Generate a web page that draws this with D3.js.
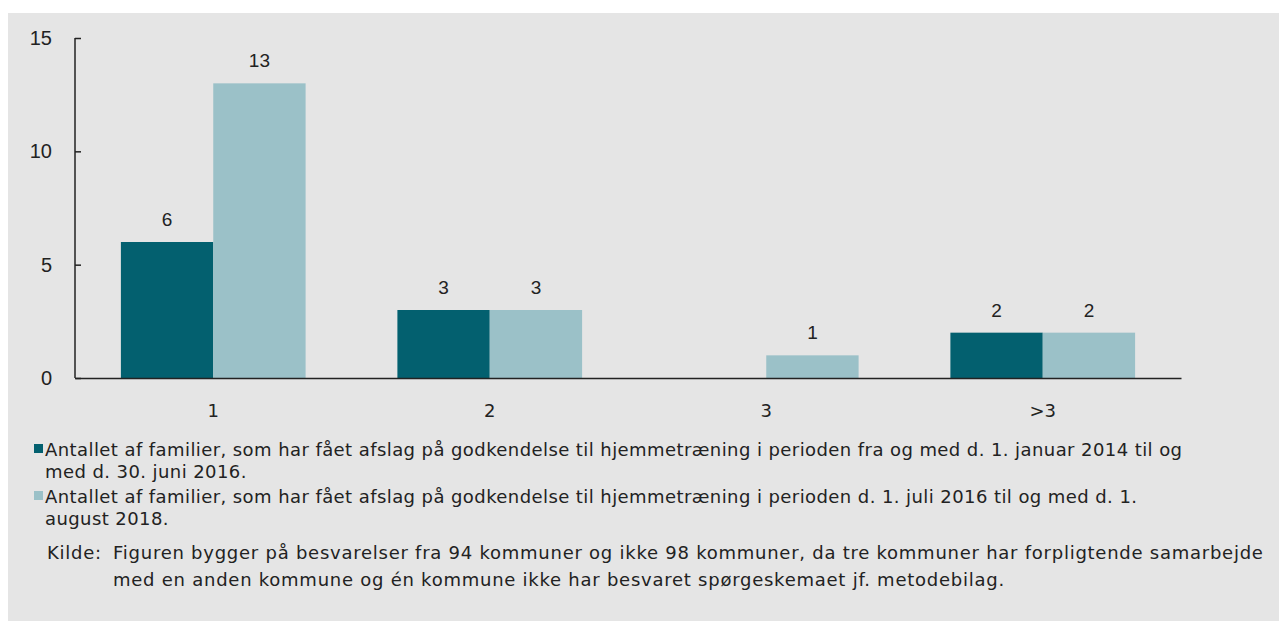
<!DOCTYPE html>
<html>
<head>
<meta charset="utf-8">
<script src="https://cdn.jsdelivr.net/npm/d3@7"></script>
<style>
  body { margin: 0; background: #fff; }
  svg { display: block; }
</style>
</head>
<body>
<script>
const categories = ["1", "2", "3", ">3"];
const series1 = [6, 3, null, 2];
const series2 = [13, 3, 1, 2];
const yTicks = [0, 5, 10, 15];
const legendLines1 = [
  "Antallet af familier, som har fået afslag på godkendelse til hjemmetræning i perioden fra og med d. 1. januar 2014 til og",
  "med d. 30. juni 2016."
];
const legendLines2 = [
  "Antallet af familier, som har fået afslag på godkendelse til hjemmetræning i perioden d. 1. juli 2016 til og med d. 1.",
  "august 2018."
];
const sourceLines = [
  "Figuren bygger på besvarelser fra 94 kommuner og ikke 98 kommuner, da tre kommuner har forpligtende samarbejde",
  "med en anden kommune og én kommune ikke har besvaret spørgeskemaet jf. metodebilag."
];

const colors = ["#03606f", "#9bc1c8"];
const W = 1279, H = 621;

const svg = d3.select("body").append("svg").attr("width", W).attr("height", H);

// grey panel
svg.append("rect").attr("x", 8).attr("y", 13).attr("width", W - 8).attr("height", H - 13).attr("fill", "#e5e5e5");

const x0 = d3.scaleBand().domain(categories).range([75, 1181]).paddingInner(0).paddingOuter(0);
const x1 = d3.scaleBand().domain([0, 1]).range([x0.bandwidth() * 0.166, x0.bandwidth() * 0.834]);
const y = d3.scaleLinear().domain([0, 15]).range([378, 38]);

const rows = categories.map((c, i) => ({ cat: c, vals: [series1[i], series2[i]] }));

const groups = svg.selectAll("g.cat").data(rows).enter().append("g")
  .attr("class", "cat")
  .attr("transform", d => `translate(${x0(d.cat)},0)`);

const cells = groups.selectAll("g.bar").data(d => d.vals.map((v, k) => ({ v, k })).filter(e => e.v != null))
  .enter().append("g").attr("class", "bar");

cells.append("rect")
  .attr("x", d => x1(d.k))
  .attr("y", d => y(d.v))
  .attr("width", x1.bandwidth())
  .attr("height", d => y(0) - y(d.v))
  .attr("fill", d => colors[d.k]);

cells.append("text")
  .text(d => d.v)
  .attr("x", d => x1(d.k) + x1.bandwidth() / 2)
  .attr("y", d => y(d.v) - 16)
  .attr("text-anchor", "middle")
  .attr("font-family", "Liberation Sans, Arial, sans-serif")
  .attr("font-size", 19)
  .attr("fill", "#222");

// y axis
const yAxis = svg.append("g").attr("transform", "translate(75,0)")
  .call(d3.axisRight(y).tickValues(yTicks).tickSize(6).tickFormat(""));
yAxis.select(".domain").attr("d", "M0,38V378").attr("stroke", "#222").attr("stroke-width", 1.5);
yAxis.selectAll(".tick line").attr("stroke", "#222").attr("stroke-width", 1.5);

svg.selectAll("text.ylab").data(yTicks).enter().append("text")
  .attr("class", "ylab")
  .text(d => d)
  .attr("x", 52)
  .attr("y", d => y(d) + 7)
  .attr("text-anchor", "end")
  .attr("font-family", "Liberation Sans, Arial, sans-serif")
  .attr("font-size", 20)
  .attr("fill", "#222");

// x axis
const xAxis = svg.append("g").attr("transform", "translate(0,378)")
  .call(d3.axisBottom(x0).tickSize(0).tickPadding(26));
xAxis.select(".domain").attr("stroke", "#222").attr("stroke-width", 1.5);
xAxis.selectAll(".tick text")
  .attr("font-family", "DejaVu Sans, Verdana, sans-serif")
  .attr("font-size", 18)
  .attr("fill", "#222");

// legend
const legendFont = "DejaVu Sans, Verdana, sans-serif";
const legendSize = 18;
const legends = [legendLines1, legendLines2];
const legendTop = [456, 503];
legends.forEach((lines, k) => {
  svg.append("rect").attr("x", 34).attr("y", legendTop[k] - 12).attr("width", 9).attr("height", 9).attr("fill", colors[k]);
  svg.append("text")
    .attr("font-family", legendFont).attr("font-size", legendSize).attr("fill", "#222")
    .attr("letter-spacing", 0.42)
    .selectAll("tspan").data(lines).enter().append("tspan")
    .attr("x", 45).attr("y", (d, i) => legendTop[k] + i * 22)
    .text(d => d);
});

svg.append("text").text("Kilde:")
  .attr("x", 47).attr("y", 559)
  .attr("letter-spacing", 0.75)
  .attr("font-family", legendFont).attr("font-size", legendSize).attr("fill", "#222");
svg.append("text")
  .attr("font-family", legendFont).attr("font-size", legendSize).attr("fill", "#222")
  .attr("letter-spacing", 0.75)
  .selectAll("tspan").data(sourceLines).enter().append("tspan")
  .attr("x", 113).attr("y", (d, i) => 559 + i * 27)
  .text(d => d);
</script>
</body>
</html>
